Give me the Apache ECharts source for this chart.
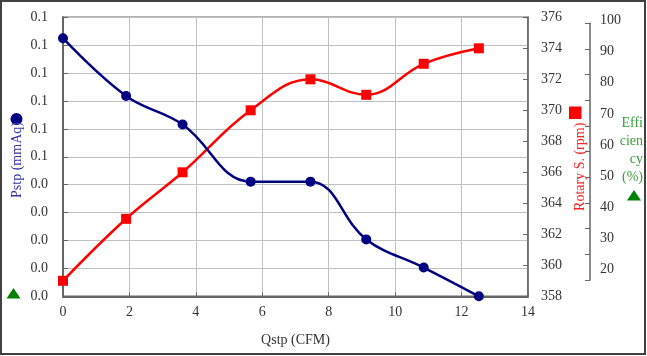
<!DOCTYPE html>
<html>
<head>
<meta charset="utf-8">
<script src="https://cdn.jsdelivr.net/npm/echarts@6/dist/echarts.min.js"></script>
<style>
html,body{margin:0;padding:0;background:#fff;}
#c{width:647px;height:356px;}
</style>
</head>
<body>
<div id="c"></div>
<script>
// Data
const qstp = [0, 1.9, 3.6, 5.65, 7.45, 9.13, 10.86, 12.52];
const pstp = [0.0925, 0.0718, 0.0616, 0.0411, 0.0411, 0.0204, 0.0103, 0.0];
const rotary = [359, 363, 366, 370, 372, 371, 373, 374];
const efficiency = [];
const xName = 'Qstp (CFM)';
const pName = 'Pstp (mmAq)';
const rName = 'Rotary S. (rpm)';
const effLines = ['Effi', 'cien', 'cy', '(%)'];

const FONT = '"Liberation Serif", "Times New Roman", serif';
const chart = echarts.init(document.getElementById('c'), null, {renderer: 'canvas'});

const pSeries = qstp.map((x, i) => [x, pstp[i]]);
const rSeries = qstp.map((x, i) => [x, rotary[i]]);

const labelStyle = {color: '#333', fontFamily: FONT, fontSize: 14};

chart.setOption({
  animation: false,
  backgroundColor: '#fff',
  grid: [
    {left: 63, top: 17.3, right: 119, bottom: 59.7, show: true, borderColor: '#666', borderWidth: 1.5, containLabel: false, outerBoundsMode: 'none'},
    {left: 540, top: 23.3, right: 57, bottom: 76, show: false, containLabel: false, outerBoundsMode: 'none'},
    {left: 540, top: 20.3, right: 57, bottom: 86.2, show: false, containLabel: false, outerBoundsMode: 'none'}
  ],
  xAxis: [
    {
      type: 'value', gridIndex: 0, min: 0, max: 14, interval: 2,
      name: xName, nameLocation: 'middle', nameGap: 37,
      nameTextStyle: {color: '#333', fontFamily: FONT, fontSize: 14},
      axisLine: {show: true, onZero: false, lineStyle: {color: '#666', width: 2}},
      axisTick: {show: true, inside: true, length: 4, lineStyle: {color: '#666'}},
      axisLabel: Object.assign({margin: 9}, labelStyle),
      splitLine: {show: true, lineStyle: {color: '#c0c0c0', width: 1}}
    },
    {type: 'value', gridIndex: 1, min: 0, max: 1, show: false},
    {type: 'value', gridIndex: 2, min: 0, max: 1, show: false}
  ],
  yAxis: [
    {
      type: 'value', gridIndex: 0, position: 'left', min: 0, max: 0.1, interval: 0.01,
      axisLine: {show: true, onZero: false, lineStyle: {color: '#666', width: 2}},
      axisTick: {show: true, inside: true, length: 5, lineStyle: {color: '#666'}},
      axisLabel: Object.assign({margin: 15, formatter: v => (Math.round(v * 100) / 100 + 1e-9).toFixed(1)}, labelStyle),
      splitLine: {show: true, lineStyle: {color: '#c0c0c0', width: 1}}
    },
    {
      type: 'value', gridIndex: 0, position: 'right', min: 358, max: 376, interval: 2,
      name: rName, nameLocation: 'middle', nameGap: 42, nameRotate: 90,
      nameTextStyle: {color: '#ff2020', fontFamily: FONT, fontSize: 14, padding: [0, 0, 0, -20]},
      axisLine: {show: true, onZero: false, lineStyle: {color: '#666', width: 1.5}},
      axisTick: {show: true, inside: true, length: 5, lineStyle: {color: '#666'}},
      axisLabel: Object.assign({margin: 13}, labelStyle),
      splitLine: {show: false}
    },
    {
      type: 'value', gridIndex: 1, position: 'right', min: 0, max: 10, interval: 1,
      axisLine: {show: true, onZero: false, lineStyle: {color: '#666', width: 1.5}},
      axisTick: {show: true, inside: true, length: 5, lineStyle: {color: '#666'}},
      axisLabel: {show: false},
      splitLine: {show: false}
    },
    {
      type: 'value', gridIndex: 2, position: 'right', min: 20, max: 100, interval: 10,
      axisLine: {show: false, onZero: false},
      axisTick: {show: false},
      axisLabel: Object.assign({margin: 10}, labelStyle),
      splitLine: {show: false}
    }
  ],
  series: [
    {
      name: pName, type: 'line', xAxisIndex: 0, yAxisIndex: 0, data: pSeries,
      smooth: 0.4, symbol: 'circle', symbolSize: 10,
      lineStyle: {color: '#000080', width: 2.5},
      itemStyle: {color: '#000080'}, z: 3
    },
    {
      name: rName, type: 'line', xAxisIndex: 0, yAxisIndex: 1, data: rSeries,
      smooth: 0.4, symbol: 'rect', symbolSize: 10,
      lineStyle: {color: '#ff0000', width: 2.5},
      itemStyle: {color: '#ff0000'}, z: 2
    },
    {
      name: 'Efficiency (%)', type: 'line', xAxisIndex: 1, yAxisIndex: 2, data: efficiency,
      symbol: 'triangle', itemStyle: {color: '#008000'}
    }
  ],
  graphic: [
    {type: 'rect', shape: {x: 1, y: 1, width: 644, height: 353}, style: {fill: 'none', stroke: '#404040', lineWidth: 2}, silent: true},
    {type: 'circle', shape: {cx: 16.5, cy: 119, r: 6}, style: {fill: '#000080'}},
    {
      type: 'text', x: 17, y: 160, rotation: Math.PI / 2,
      style: {text: pName, fill: '#3333aa', font: '14px ' + FONT, align: 'center', verticalAlign: 'middle'}
    },
    {type: 'rect', shape: {x: 569, y: 106.5, width: 12.5, height: 12.5}, style: {fill: '#ff0000'}},
    {type: 'polygon', shape: {points: [[634, 190], [627, 200.5], [641, 200.5]]}, style: {fill: '#008000'}},
    {type: 'polygon', shape: {points: [[13.5, 288], [6.5, 298.5], [20.5, 298.5]]}, style: {fill: '#008000'}},
    {
      type: 'text', x: 643, y: 114,
      style: {text: effLines.join('\n'), fill: '#3a9e3a', font: '14px ' + FONT, align: 'right', lineHeight: 18}
    }
  ]
});
</script>
</body>
</html>
